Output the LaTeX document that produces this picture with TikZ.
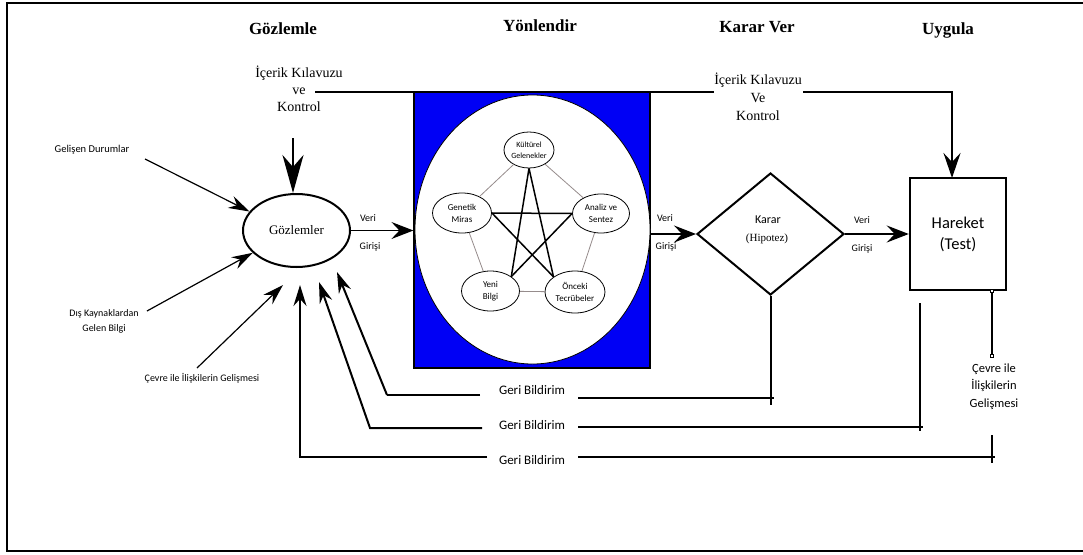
\documentclass[tikz,border=0pt]{standalone}
\usepackage{fontspec}
\setmainfont{Liberation Serif}
\newfontfamily\sansf{Carlito}
\usetikzlibrary{shapes.geometric,arrows.meta}
\definecolor{pentgray}{RGB}{150,140,140}
\definecolor{boxblue}{RGB}{0,0,245}
\begin{document}
\begin{tikzpicture}[x=1pt,y=-1pt,
  title/.style={font=\bfseries\fontsize{17}{20}\selectfont},
  serl/.style={font=\fontsize{14}{17}\selectfont, align=center},
  serr/.style={font=\fontsize{14}{18}\selectfont, align=center},
  sl/.style={font=\sansf\fontsize{10.5}{15}\selectfont, align=center},
  vg/.style={font=\sansf\fontsize{10}{12}\selectfont},
  gb/.style={font=\sansf\fontsize{13}{15}\selectfont},
  inn/.style={draw, ellipse, fill=white, inner sep=0pt, line width=0.8pt,
              font=\sansf\fontsize{9}{12}\selectfont, align=center},
  tip/.style={-{Stealth[length=21pt,width=13pt,inset=7pt]}},
  vtip/.style={-{Stealth[length=22pt,width=17pt,inset=8pt]}},
  midtip/.style={-{Stealth[length=25pt,width=17pt,inset=9pt]}},
  bigtip/.style={-{Stealth[length=38pt,width=21pt,inset=12pt]}},
  inline/.style={line width=1.2pt},
  fbline/.style={line width=2pt},
  pent/.style={draw=pentgray, line width=0.8pt},
  star/.style={line width=1.5pt},
  sq/.style={draw, fill=white, minimum size=3pt, inner sep=0pt, line width=0.4pt}
]
\useasboundingbox (0,0) rectangle (1083,554);
% frame
\draw[line width=1.5pt] (1085,3) -- (7,3) -- (7,551) -- (1085,551);

% titles
\node[title] (t1) at (283,29) {Gözlemle};
\node[title] (t2) at (540,26) {Yönlendir};
\node[title] (t3) at (757,27) {Karar Ver};
\node[title] (t4) at (948,30) {Uygula};

% control texts
\node[serl] (ick1) at (299,89) {İçerik Kılavuzu\\ve\\Kontrol};
\node[serr] (ick2) at (758,97) {İçerik Kılavuzu\\Ve\\Kontrol};

% blue box with big ellipse
\node[draw, fill=boxblue, line width=1.2pt, minimum width=236pt, minimum height=276pt, inner sep=0pt] (blue) at (532,230) {};
\node[draw, ellipse, fill=white, line width=0.8pt, minimum width=235pt, minimum height=269pt, inner sep=0pt] (wel) at (532.5,229.5) {};

% inner nodes
\node[inn, minimum width=50pt, minimum height=36pt, font=\sansf\fontsize{8}{10.5}\selectfont] (kul) at (529,150) {Kültürel\\Gelenekler};
\node[inn, minimum width=59pt, minimum height=40pt] (gen) at (462,213) {Genetik\\Miras};
\node[inn, minimum width=57pt, minimum height=39pt] (ana) at (601,213.5) {Analiz ve\\Sentez};
\node[inn, minimum width=58pt, minimum height=40pt] (yen) at (490.5,291) {Yeni\\Bilgi};
\node[inn, minimum width=60pt, minimum height=42pt] (onc) at (575,292) {Önceki\\Tecrübeler};

% pentagon
\draw[pent] (kul) -- (gen);
\draw[pent] (kul) -- (ana);
\draw[pent] (gen) -- (yen);
\draw[pent] (ana) -- (onc);
\draw[pent] (yen) -- (onc);
% star
\draw[star] (kul.south) -- (yen.north east);
\draw[star] (kul.south) -- (onc.north west);
\draw[star] (gen.east) -- (ana.west);
\draw[star] (gen.east) -- (onc.north west);
\draw[star] (ana.west) -- (yen.north east);

% Gozlemler
\node[draw, ellipse, line width=2pt, minimum width=107pt, minimum height=73pt, inner sep=0pt,
      font=\fontsize{13}{15}\selectfont] (goz) at (296.5,230.5) {Gözlemler};

% diamond
\node[draw, diamond, line width=2pt, minimum width=147pt, minimum height=122pt, inner sep=0pt] (karar) at (770.5,234) {};
\node[font=\sansf\fontsize{12}{14}\selectfont] (karT) at (768,220) {Karar};
\node[font=\fontsize{11}{13}\selectfont] (hipT) at (767,239) {(Hipotez)};

% Hareket box
\node[draw, line width=2.5pt, minimum width=96pt, minimum height=112pt, inner sep=0pt,
      font=\sansf\fontsize{16.5}{21}\selectfont, align=center] (har) at (958,234) {Hareket\\(Test)};

% top control line
\coordinate (tl1) at (315,92);
\coordinate (tl2) at (714,92);
\coordinate (tl3) at (803,92);
\coordinate (hn) at (952,178);
\draw[line width=2.5pt] (tl1) -- (tl2);
\draw[line width=2.5pt, midtip] (tl3) -| (hn);

% down arrow to Gozlemler
\coordinate (gd) at (293,138);
\draw[line width=2.5pt, bigtip] (gd) -- (goz.north -| gd);

% data flow arrows
\draw[line width=1.2pt, vtip] (goz.east) -- (blue.west |- goz.east);
\draw[line width=1.2pt, vtip] (blue.east |- karar.west) -- (karar.west);
\draw[line width=1.2pt, vtip] (karar.east) -- (har.west |- karar.east);
\node[vg] (v1) at (368,218) {Veri};
\node[vg] (g1) at (370,247) {Girişi};
\node[vg] (v2) at (665,218) {Veri};
\node[vg] (g2) at (666,247) {Girişi};
\node[vg] (v3) at (862,220) {Veri};
\node[vg] (g3) at (862,249) {Girişi};

% input labels and arrows
\node[sl] (gel) at (92,150) {Gelişen Durumlar};
\node[sl, font=\sansf\fontsize{10}{15}\selectfont] (dis) at (104,321.5) {Dış Kaynaklardan\\Gelen Bilgi};
\node[sl, font=\sansf\fontsize{10}{15}\selectfont] (cevl) at (202,378) {Çevre ile İlişkilerin Gelişmesi};
\coordinate (gels) at (145,159);
\coordinate (diss) at (147,311);
\coordinate (cevs) at (197,368);
\coordinate (cevt) at (283,285);
\draw[inline, tip] (gels) -- (goz.158);
\draw[inline, tip] (diss) -- (goz.207);
\draw[inline, tip] (cevs) -- (cevt);

% feedback labels
\node[gb] (gb1) at (532,390) {Geri Bildirim};
\node[gb] (gb2) at (532,425) {Geri Bildirim};
\node[gb] (gb3) at (532,460) {Geri Bildirim};

% feedback left parts
\coordinate (f1a) at (480,395);
\coordinate (f1b) at (387,395);
\coordinate (f1t) at (337,272);
\coordinate (f2a) at (482,428);
\coordinate (f2b) at (370,428);
\coordinate (f2t) at (319,282);
\coordinate (f3a) at (487,457);
\coordinate (f3b) at (300,457);
\coordinate (f3t) at (300,285);
\draw[line width=2.6pt] (f1a) -- (f1b);
\draw[fbline, tip] (f1b) -- (f1t);
\draw[fbline, tip] (f2a) -- (f2b) -- (f2t);
\draw[fbline, tip] (f3a) -- (f3b) -- (f3t);

% feedback right parts
\coordinate (r1a) at (578,398);
\coordinate (r1b) at (774,398);
\coordinate (r2a) at (578,427);
\coordinate (r2b) at (923,427);
\coordinate (r2c) at (920,303);
\coordinate (r2d) at (920,431);
\coordinate (r3a) at (578,457);
\coordinate (r3b) at (995,457);
\coordinate (r3c) at (992,435);
\coordinate (r3d) at (992,463);
\draw[fbline] (r1a) -- (r1b);
\draw[fbline] (karar.south) -- ++(0,109);
\draw[fbline] (r2a) -- (r2b);
\draw[fbline] (r2c) -- (r2d);
\draw[fbline] (r3a) -- (r3b);
\draw[fbline] (r3c) -- (r3d);

% environment relation below action
\coordinate (ea) at (992,291);
\coordinate (eb) at (992,356);
\draw[line width=1.6pt] (ea) -- (eb);
\node[sq] (sqa) at (ea) {};
\node[sq] (sqb) at (eb) {};
\node[font=\sansf\fontsize{12.5}{17.5}\selectfont, align=center] (cevr) at (994,386.5) {Çevre ile\\İlişkilerin\\Gelişmesi};
\end{tikzpicture}
\end{document}
